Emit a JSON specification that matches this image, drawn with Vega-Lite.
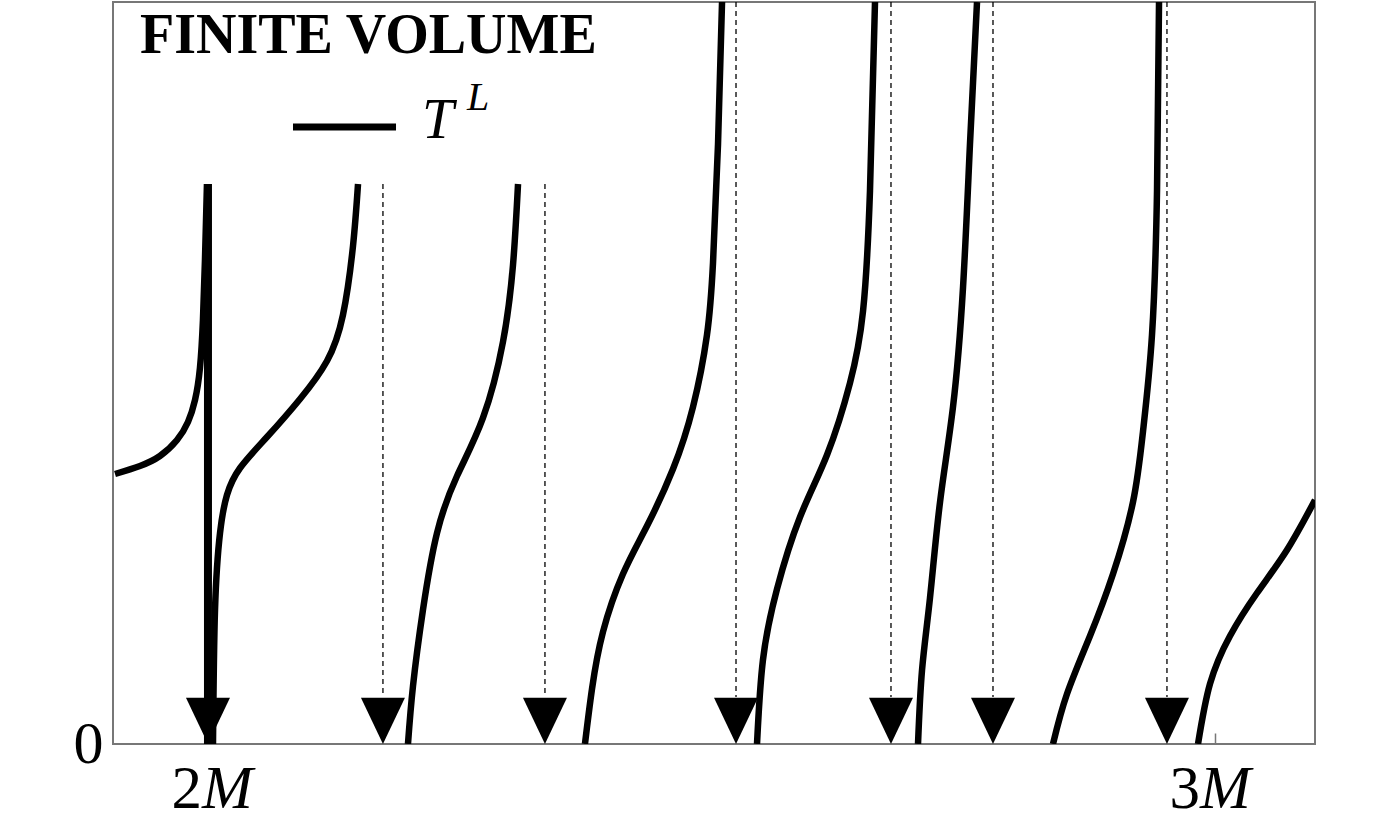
{
  "$schema": "https://vega.github.io/schema/vega-lite/v6.json",
  "width": 1202,
  "height": 742,
  "autosize": {"type": "none"},
  "padding": {"left": 113, "top": 2, "right": 74, "bottom": 90},
  "background": "white",
  "config": {"view": {"stroke": "#777777", "strokeWidth": 2}, "font": "Liberation Serif"},
  "datasets": {
    "curves": [
      {"s": "A", "i": 1, "r": 1.9055, "v": 0.3639},
      {"s": "A", "i": 2, "r": 1.9303, "v": 0.3747},
      {"s": "A", "i": 3, "r": 1.9502, "v": 0.3881},
      {"s": "A", "i": 4, "r": 1.9672, "v": 0.4097},
      {"s": "A", "i": 5, "r": 1.9781, "v": 0.4340},
      {"s": "A", "i": 6, "r": 1.9851, "v": 0.4636},
      {"s": "A", "i": 7, "r": 1.9900, "v": 0.5067},
      {"s": "A", "i": 8, "r": 1.9930, "v": 0.5714},
      {"s": "A", "i": 9, "r": 1.9950, "v": 0.6523},
      {"s": "A", "i": 10, "r": 1.9970, "v": 0.7547},
      {"s": "B", "i": 1, "r": 2.0030, "v": 0.0},
      {"s": "B", "i": 2, "r": 2.0050, "v": 0.1806},
      {"s": "B", "i": 3, "r": 2.0100, "v": 0.2844},
      {"s": "B", "i": 4, "r": 2.0169, "v": 0.3356},
      {"s": "B", "i": 5, "r": 2.0299, "v": 0.3720},
      {"s": "B", "i": 6, "r": 2.0567, "v": 0.4137},
      {"s": "B", "i": 7, "r": 2.0896, "v": 0.4650},
      {"s": "B", "i": 8, "r": 2.1164, "v": 0.5162},
      {"s": "B", "i": 9, "r": 2.1323, "v": 0.5782},
      {"s": "B", "i": 10, "r": 2.1423, "v": 0.6712},
      {"s": "B", "i": 11, "r": 2.1473, "v": 0.7547},
      {"s": "C", "i": 1, "r": 2.1970, "v": 0.0},
      {"s": "C", "i": 2, "r": 2.2020, "v": 0.0782},
      {"s": "C", "i": 3, "r": 2.2119, "v": 0.1806},
      {"s": "C", "i": 4, "r": 2.2259, "v": 0.2844},
      {"s": "C", "i": 5, "r": 2.2458, "v": 0.3612},
      {"s": "C", "i": 6, "r": 2.2716, "v": 0.4394},
      {"s": "C", "i": 7, "r": 2.2915, "v": 0.5418},
      {"s": "C", "i": 8, "r": 2.3015, "v": 0.6456},
      {"s": "C", "i": 9, "r": 2.3065, "v": 0.7547},
      {"s": "D", "i": 1, "r": 2.3731, "v": 0.0},
      {"s": "D", "i": 2, "r": 2.3801, "v": 0.0741},
      {"s": "D", "i": 3, "r": 2.3910, "v": 0.1509},
      {"s": "D", "i": 4, "r": 2.4109, "v": 0.2291},
      {"s": "D", "i": 5, "r": 2.4348, "v": 0.2938},
      {"s": "D", "i": 6, "r": 2.4607, "v": 0.3706},
      {"s": "D", "i": 7, "r": 2.4806, "v": 0.4542},
      {"s": "D", "i": 8, "r": 2.4945, "v": 0.5512},
      {"s": "D", "i": 9, "r": 2.5005, "v": 0.6482},
      {"s": "D", "i": 10, "r": 2.5055, "v": 0.8086},
      {"s": "D", "i": 11, "r": 2.5095, "v": 1.0},
      {"s": "E", "i": 1, "r": 2.5443, "v": 0.0},
      {"s": "E", "i": 2, "r": 2.5502, "v": 0.1132},
      {"s": "E", "i": 3, "r": 2.5642, "v": 0.2089},
      {"s": "E", "i": 4, "r": 2.5871, "v": 0.3059},
      {"s": "E", "i": 5, "r": 2.6139, "v": 0.3895},
      {"s": "E", "i": 6, "r": 2.6368, "v": 0.4865},
      {"s": "E", "i": 7, "r": 2.6498, "v": 0.5836},
      {"s": "E", "i": 8, "r": 2.6567, "v": 0.7453},
      {"s": "E", "i": 9, "r": 2.6617, "v": 1.0},
      {"s": "F", "i": 1, "r": 2.7045, "v": 0.0},
      {"s": "F", "i": 2, "r": 2.7085, "v": 0.0997},
      {"s": "F", "i": 3, "r": 2.7164, "v": 0.1968},
      {"s": "F", "i": 4, "r": 2.7264, "v": 0.3261},
      {"s": "F", "i": 5, "r": 2.7393, "v": 0.4542},
      {"s": "F", "i": 6, "r": 2.7493, "v": 0.6159},
      {"s": "F", "i": 7, "r": 2.7562, "v": 0.8086},
      {"s": "F", "i": 8, "r": 2.7632, "v": 1.0},
      {"s": "G", "i": 1, "r": 2.8388, "v": 0.0},
      {"s": "G", "i": 2, "r": 2.8527, "v": 0.0674},
      {"s": "G", "i": 3, "r": 2.8756, "v": 0.1456},
      {"s": "G", "i": 4, "r": 2.8985, "v": 0.2291},
      {"s": "G", "i": 5, "r": 2.9184, "v": 0.3261},
      {"s": "G", "i": 6, "r": 2.9284, "v": 0.4218},
      {"s": "G", "i": 7, "r": 2.9373, "v": 0.5512},
      {"s": "G", "i": 8, "r": 2.9423, "v": 0.7453},
      {"s": "G", "i": 9, "r": 2.9443, "v": 1.0},
      {"s": "H", "i": 1, "r": 2.9831, "v": 0.0},
      {"s": "H", "i": 2, "r": 2.9950, "v": 0.0809},
      {"s": "H", "i": 3, "r": 3.0149, "v": 0.1456},
      {"s": "H", "i": 4, "r": 3.0418, "v": 0.2035},
      {"s": "H", "i": 5, "r": 3.0716, "v": 0.2615},
      {"s": "H", "i": 6, "r": 3.0995, "v": 0.3288}
    ],
    "arrows": [
      {"r": 1.9980, "top": 0.7547, "bottom": 0.0633, "kind": "solid"},
      {"r": 2.1721, "top": 0.7547, "bottom": 0.0633, "kind": "dashed"},
      {"r": 2.3333, "top": 0.7547, "bottom": 0.0633, "kind": "dashed"},
      {"r": 2.5234, "top": 1.0, "bottom": 0.0633, "kind": "dashed"},
      {"r": 2.6776, "top": 1.0, "bottom": 0.0633, "kind": "dashed"},
      {"r": 2.7791, "top": 1.0, "bottom": 0.0633, "kind": "dashed"},
      {"r": 2.9522, "top": 1.0, "bottom": 0.0633, "kind": "dashed"}
    ]
  },
  "layer": [
    {
      "data": {"name": "curves"},
      "mark": {"type": "line", "color": "black", "strokeWidth": 6.5, "interpolate": "natural", "clip": true, "strokeCap": "butt"},
      "encoding": {
        "x": {"field": "r", "type": "quantitative", "title": null,
              "scale": {"domain": [1.9035, 3.0995], "nice": false, "zero": false},
              "axis": {"values": [2, 3], "labels": false, "ticks": true, "tickSize": -11, "tickColor": "#777777", "tickWidth": 1.5, "domain": false, "grid": false, "title": null}},
        "y": {"field": "v", "type": "quantitative", "title": null,
              "scale": {"domain": [0, 1], "nice": false, "zero": false},
              "axis": {"values": [0], "format": "d", "ticks": false, "domain": false, "grid": false, "title": null, "labelFont": "Liberation Serif", "labelFontSize": 60, "labelColor": "black", "labelPadding": 10}},
        "detail": {"field": "s"},
        "order": {"field": "i", "type": "quantitative"}
      }
    },
    {
      "data": {"name": "arrows"},
      "transform": [{"filter": "datum.kind == 'solid'"}],
      "mark": {"type": "rule", "color": "black", "strokeWidth": 8},
      "encoding": {
        "x": {"field": "r", "type": "quantitative", "title": null},
        "y": {"field": "top", "type": "quantitative", "title": null},
        "y2": {"datum": 0}
      }
    },
    {
      "data": {"name": "arrows"},
      "transform": [{"filter": "datum.kind == 'dashed'"}],
      "mark": {"type": "rule", "color": "black", "strokeWidth": 1.3, "strokeDash": [5, 4], "clip": true},
      "encoding": {
        "x": {"field": "r", "type": "quantitative", "title": null},
        "y": {"field": "top", "type": "quantitative", "title": null},
        "y2": {"field": "bottom"}
      }
    },
    {
      "data": {"name": "arrows"},
      "mark": {"type": "point", "shape": "M -1 -2.1 L 1 -2.1 L 0 0 Z", "size": 1936, "filled": true, "color": "black", "opacity": 1, "strokeWidth": 0},
      "encoding": {
        "x": {"field": "r", "type": "quantitative", "title": null},
        "y": {"datum": 0}
      }
    },
    {
      "data": {"values": [{"r": 1.9303, "v": 0.9313, "t": "FINITE VOLUME"}]},
      "mark": {"type": "text", "font": "Liberation Serif", "fontWeight": "bold", "fontSize": 56, "align": "left", "baseline": "alphabetic", "fill": "black"},
      "encoding": {
        "x": {"field": "r", "type": "quantitative", "title": null},
        "y": {"field": "v", "type": "quantitative", "title": null},
        "text": {"field": "t"}
      }
    },
    {
      "data": {"values": [{"r": 2.0826, "v": 0.8315}, {"r": 2.1851, "v": 0.8315}]},
      "mark": {"type": "line", "color": "black", "strokeWidth": 7, "strokeCap": "butt"},
      "encoding": {
        "x": {"field": "r", "type": "quantitative", "title": null},
        "y": {"field": "v", "type": "quantitative", "title": null}
      }
    },
    {
      "data": {"values": [{"r": 2.2109, "v": 0.8167, "t": "T", "fs": "big"}, {"r": 2.2557, "v": 0.8544, "t": "L", "fs": "small"}]},
      "mark": {"type": "text", "font": "Liberation Serif", "fontStyle": "italic", "align": "left", "baseline": "alphabetic", "fill": "black"},
      "encoding": {
        "x": {"field": "r", "type": "quantitative", "title": null},
        "y": {"field": "v", "type": "quantitative", "title": null},
        "text": {"field": "t"},
        "size": {"field": "fs", "type": "nominal", "scale": {"domain": ["big", "small"], "range": [57, 40]}, "legend": null}
      }
    },
    {
      "data": {"values": [{"r": 1.992, "v": -0.0863, "t": "2"}, {"r": 2.9851, "v": -0.0863, "t": "3"}]},
      "mark": {"type": "text", "font": "Liberation Serif", "fontSize": 61, "align": "right", "baseline": "alphabetic", "fill": "black"},
      "encoding": {
        "x": {"field": "r", "type": "quantitative", "title": null},
        "y": {"field": "v", "type": "quantitative", "title": null},
        "text": {"field": "t"}
      }
    },
    {
      "data": {"values": [{"r": 1.992, "v": -0.0863, "t": "M"}, {"r": 2.9851, "v": -0.0863, "t": "M"}]},
      "mark": {"type": "text", "font": "Liberation Serif", "fontStyle": "italic", "fontSize": 61, "align": "left", "baseline": "alphabetic", "fill": "black"},
      "encoding": {
        "x": {"field": "r", "type": "quantitative", "title": null},
        "y": {"field": "v", "type": "quantitative", "title": null},
        "text": {"field": "t"}
      }
    }
  ]
}
